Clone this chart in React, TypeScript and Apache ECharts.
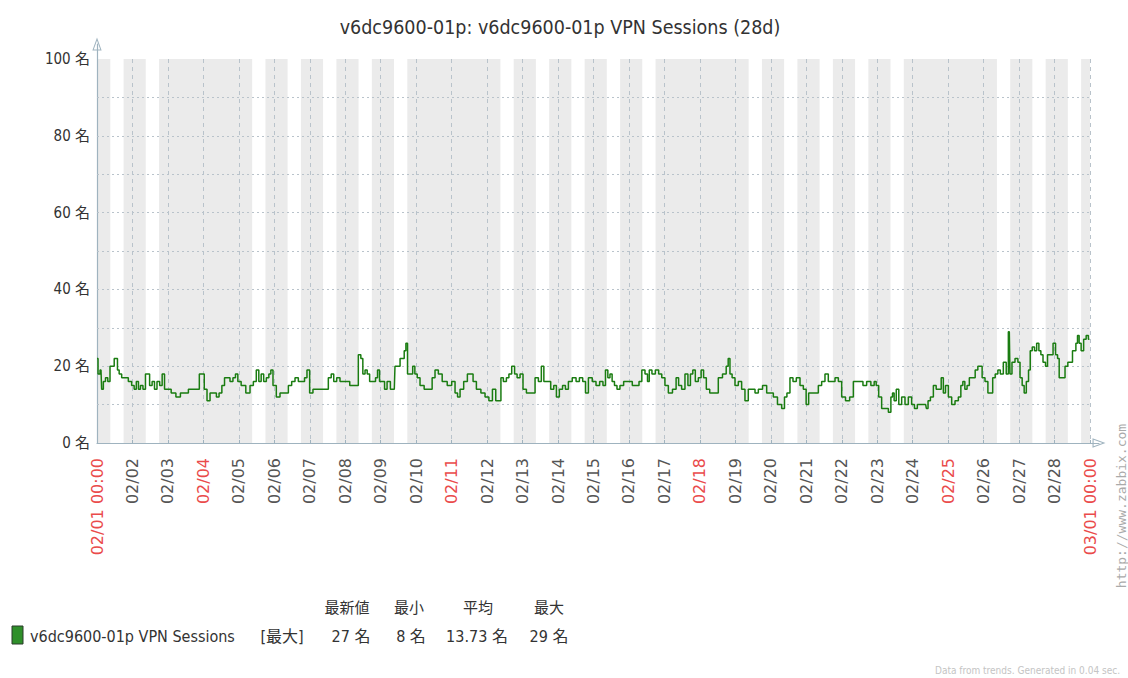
import React, { useEffect, useRef } from 'react';
import * as echarts from 'echarts';

// hours since 02/01 00:00 and the plotted (max) session count at that time
const hours = [
  0, 1.4, 2.7, 3.6, 5, 6.5, 8.1, 9.5, 11.1, 12.2, 13.3, 14.4, 15.6, 17.8, 20.1, 22.3, 24.6, 25.7, 27.5, 28.6,
  30.2, 32, 33.6, 34.7, 36.5, 38.1, 39.7, 41.5, 43.3, 44.9, 46.5, 48.7, 51.7, 55.1, 57.8, 60.7, 63, 66.3, 68.1, 70.4,
  71.7, 73.5, 75.4, 77.6, 79.9, 81.7, 83.5, 85.5, 87.1, 88.9, 91.1, 92.9, 94.5, 96.1, 99, 102.4, 104.7, 106.9, 108.7, 110.3,
  111.9, 113.7, 115.5, 117.1, 118.2, 120, 122.7, 125, 128.4, 130.6, 132.9, 135.1, 137.4, 139.7, 141.2, 143, 144.8, 147.5, 152.1, 155.4,
  157.7, 159.3, 161.1, 163.3, 165.6,
  169.7, 172.4, 175.7, 178, 179.1, 180.7, 182.1, 183.6, 185.4, 187.7, 189.3, 190.4, 192, 193.8, 195.4, 197.2, 199.9, 201.2, 202.1, 204.4,
  205.8, 207.3, 208.5, 209.6, 210.7, 213, 214.3, 215.9, 217.5, 219.7, 223.1, 226, 227.6, 229.9, 232.1, 235.1, 238.9, 241.2, 243.4, 244.6,
  246.8, 249.5, 251.8, 253.6, 255.4, 258.1, 261.5, 263.7, 266.7, 268.5, 271.2, 272.8, 273.9, 276.1, 278, 279.5, 281.8, 283.4, 285.2, 287.4,
  289.2, 292, 295.3, 297.6, 299.8, 301.6, 303.2, 305.9, 308.2, 310, 311.8, 314, 316.1, 317.9, 320.1, 323.1, 325.3, 327.6, 329.8, 331.4,
  333.7, 336.6,
  338.8, 341.5, 343.3, 344.9, 346.5, 347.8, 349.4, 351, 352.8, 355, 357.8, 359.6, 360.9, 363.6, 365.9, 367.7, 369.7, 372, 373.1, 374.4,
  376.7, 379, 381.2, 383.2, 385.5, 387.8, 391.1, 392.7, 394.5, 396.8, 399, 400.8, 402.4, 404, 405.8, 408.1, 409.6, 411.4, 413.3, 416,
  419.3, 421.6, 425, 426.6, 427.7, 429, 430.6, 432.9, 435.1, 437.4, 439.6, 441.9, 444.2, 446.4, 448.7, 452.1, 454.3, 456.6, 458.8, 462.2,
  464.5, 466, 467.8, 470.1, 471.9, 474.6, 476.9, 479.1, 480.7, 482.5, 484.8, 487, 489.3, 491.5, 493.8, 496, 498.3, 500.6, 502.8, 505.1,
  508, 510.7, 513, 517, 519.7, 522, 525.4, 526.5, 528.1, 529.9, 532.1, 534.4, 536.7, 537.8, 538.9, 540, 541.8, 543.4, 545.7, 547.9,
  550.2, 552.4, 554, 556.3, 558.5, 560.8, 561.7, 563.1, 564.9, 567.1, 568.7, 570.5, 572.1, 573.4, 575, 577.3, 579.5, 581.8, 584, 585.2,
  586.7, 587.9, 589.7, 591, 593.3, 595.3, 596.9, 598.2, 599.8, 602.1, 603.7, 605.5, 606.8, 608.9, 610.4, 612.2, 614.5, 616.1, 617.4, 618.3,
  620.1, 622.4, 624, 625.3, 626.9, 628, 629.8, 631, 632.1, 633.7, 635.2, 636.6, 638.2, 639.3, 641.1, 642.7, 643.8, 646.1, 647.9, 649.5,
  650.6, 651.7, 654, 656.2, 657.8, 659.6, 660.7, 661.9, 663, 664.1, 665.2, 666.8, 668.6, 670.2, 671.6,
];

const sessions = [
  22, 18, 19, 14, 16, 17, 16, 20, 20, 22, 22, 19, 18, 17, 17, 16, 15, 14, 16, 14,
  15, 14, 18, 18, 15, 16, 14, 16, 15, 18, 14, 14, 13, 12, 13, 13, 14, 14, 14, 18,
  18, 14, 11, 13, 13, 12, 13, 15, 17, 17, 16, 17, 18, 16, 15, 13, 15, 16, 19, 16,
  18, 16, 17, 18, 19, 15, 12, 13, 13, 15, 16, 17, 16, 16, 17, 19, 13, 14, 14, 14,
  17, 18, 16, 17, 16,
  16, 15, 15, 23, 22, 18, 19, 18, 16, 16, 17, 19, 16, 16, 14, 16, 14, 14, 20, 20,
  22, 22, 24, 26, 18, 18, 20, 18, 17, 15, 14, 14, 17, 19, 18, 16, 15, 16, 13, 12,
  14, 16, 18, 18, 16, 14, 13, 12, 11, 14, 11, 11, 17, 16, 17, 18, 20, 18, 17, 18,
  14, 13, 13, 17, 16, 20, 16, 16, 14, 15, 12, 14, 15, 14, 16, 17, 16, 17, 16, 13,
  17, 16,
  15, 16, 15, 19, 17, 18, 16, 15, 14, 15, 16, 16, 16, 15, 15, 16, 19, 18, 16, 19,
  18, 19, 18, 17, 15, 13, 14, 17, 15, 14, 18, 15, 18, 19, 16, 17, 19, 17, 14, 13,
  13, 17, 18, 20, 22, 18, 17, 15, 16, 14, 11, 14, 14, 13, 14, 15, 13, 13, 12, 10,
  9, 12, 13, 17, 16, 17, 15, 14, 10, 13, 13, 13, 15, 16, 18, 16, 16, 17, 16, 12,
  11, 12, 16, 16, 15, 16, 15, 16, 15, 12, 9, 9, 8, 12, 13, 11, 14, 10, 12, 10,
  12, 10, 9, 10, 10, 10, 9, 11, 12, 15, 14, 14, 17, 13, 15, 12, 10, 11, 12, 15,
  16, 14, 15, 17, 17, 19, 20, 20, 17, 16, 13, 13, 17, 18, 19, 18, 21, 18, 29, 18,
  21, 22, 21, 17, 15, 13, 16, 19, 24, 25, 24, 26, 24, 23, 21, 20, 23, 23, 26, 23,
  22, 17, 17, 20, 21, 21, 24, 24, 26, 28, 26, 24, 27, 28, 27,
];

const dayLabels = [
  '02/01 00:00', '02/02', '02/03', '02/04', '02/05', '02/06', '02/07', '02/08', '02/09', '02/10',
  '02/11', '02/12', '02/13', '02/14', '02/15', '02/16', '02/17', '02/18', '02/19', '02/20',
  '02/21', '02/22', '02/23', '02/24', '02/25', '02/26', '02/27', '02/28', '03/01 00:00',
];
const redLabels = ['02/01 00:00', '02/04', '02/11', '02/18', '02/25', '03/01 00:00'];

const yLabelValues = [0, 20, 40, 60, 80, 100];

// working days (index from 02/01) and working hours; the rest is shaded
const workDays = [0, 1, 4, 5, 6, 7, 8, 11, 12, 13, 14, 15, 18, 19, 20, 21, 22, 25, 26, 27];
const workStartHour = 9;
const workEndHour = 18;

const titleText = 'v6dc9600-01p: v6dc9600-01p VPN Sessions (28d)';
const seriesName = 'v6dc9600-01p VPN Sessions';
const legendFunc = '[最大]';
const legendHeaders = ['最新値', '最小', '平均', '最大'];
const legendValues = ['27 名', '8 名', '13.73 名', '29 名'];
const footerText = 'Data from trends. Generated in 0.04 sec.';
const siteText = 'http://www.zabbix.com';

const AXIS_COLOR = '#9fb3bf';
const GRID_COLOR = '#b9c3cb';
const RED = '#ea4b4b';
const COND = "'DejaVu Sans Condensed', 'Liberation Sans Narrow', 'Noto Sans CJK JP', sans-serif";
const ARROW = 'path://M5,0 L10,14 L0,14 Z M5,3.2 L1.5,12.8 L8.5,12.8 Z';

function buildBands(): number[][] {
  const out: number[][] = [];
  let cursor = 0;
  for (const d of workDays) {
    const s = d * 24 + workStartHour;
    const e = d * 24 + workEndHour;
    if (s > cursor) out.push([cursor, s]);
    cursor = e;
  }
  if (cursor < 672) out.push([cursor, 672]);
  return out;
}

export default function App() {
  const ref = useRef<HTMLDivElement>(null);

  useEffect(() => {
    if (!ref.current) return;
    const chart = echarts.init(ref.current, null, { renderer: 'svg' });
    const bands = buildBands();
    const headerX = [347, 409, 478, 549];
    const valueX = [351, 411, 477, 549];

    const graphics: any[] = [
      {
        type: 'text', x: 560, y: 27,
        style: { text: titleText, fill: '#333', font: `19.5px ${COND}`, textAlign: 'center', textVerticalAlign: 'middle', align: 'center', verticalAlign: 'middle' },
      },
      {
        type: 'rect', shape: { x: 12, y: 626, width: 11, height: 18 },
        style: { fill: '#2f8f2a', stroke: '#2a3a2a', lineWidth: 1 },
      },
      {
        type: 'text', x: 30, y: 636,
        style: { text: seriesName, fill: '#333', font: `16px ${COND}`, textAlign: 'left', textVerticalAlign: 'middle', align: 'left', verticalAlign: 'middle' },
      },
      {
        type: 'text', x: 282, y: 636,
        style: { text: legendFunc, fill: '#333', font: `16px ${COND}`, textAlign: 'center', textVerticalAlign: 'middle', align: 'center', verticalAlign: 'middle' },
      },
      {
        type: 'text', x: 1120, y: 670,
        style: { text: footerText, fill: '#c4c4c4', font: `10px ${COND}`, textAlign: 'right', textVerticalAlign: 'middle', align: 'right', verticalAlign: 'middle' },
      },
      {
        type: 'text', x: 1121, y: 506, rotation: Math.PI / 2,
        style: { text: siteText, fill: '#aaaaaa', font: "13px 'DejaVu Sans Mono', monospace", textAlign: 'center', textVerticalAlign: 'middle', align: 'center', verticalAlign: 'middle' },
      },
    ];
    legendHeaders.forEach((t, i) => {
      graphics.push({
        type: 'text', x: headerX[i], y: 608,
        style: { text: t, fill: '#333', font: `15px ${COND}`, textAlign: 'center', textVerticalAlign: 'middle', align: 'center', verticalAlign: 'middle' },
      });
    });
    legendValues.forEach((t, i) => {
      graphics.push({
        type: 'text', x: valueX[i], y: 636,
        style: { text: t, fill: '#333', font: `16px ${COND}`, textAlign: 'center', textVerticalAlign: 'middle', align: 'center', verticalAlign: 'middle' },
      });
    });

    chart.setOption({
      animation: false,
      backgroundColor: '#ffffff',
      grid: [
        { left: 97, top: 59, right: 38, bottom: 235 },
        { left: 97, top: 44, right: 29, bottom: 235 },
      ],
      xAxis: [
        {
          gridIndex: 0, type: 'value', min: 0, max: 672, interval: 24, z: 1,
          axisLine: { show: false },
          axisTick: { show: true, inside: true, length: 3, lineStyle: { color: AXIS_COLOR } },
          axisLabel: {
            rotate: 90, margin: 15, fontSize: 16, fontFamily: "'DejaVu Sans', sans-serif",
            showMinLabel: true, showMaxLabel: true,
            formatter: (v: number) => dayLabels[Math.round(v / 24)] ?? '',
            color: (v: any) => (redLabels.includes(dayLabels[Math.round(Number(v) / 24)]) ? RED : '#555'),
          },
          splitLine: { show: true, showMinLine: false, showMaxLine: true, lineStyle: { color: GRID_COLOR, type: [4, 4], width: 1 } },
        },
        {
          gridIndex: 1, type: 'value', min: 0, max: 1,
          axisLine: { show: true, onZero: false, symbol: ['none', ARROW], symbolSize: [10, 13], lineStyle: { color: AXIS_COLOR, width: 1.2 } },
          axisTick: { show: false }, axisLabel: { show: false }, splitLine: { show: false },
        },
      ],
      yAxis: [
        {
          gridIndex: 0, type: 'value', min: 0, max: 100, interval: 10, z: 1,
          axisLine: { show: false }, axisTick: { show: false },
          axisLabel: {
            margin: 7, fontSize: 15, fontFamily: COND, color: '#333',
            formatter: (v: number) => (yLabelValues.includes(v) ? `${v} 名` : ''),
          },
          splitLine: { show: true, showMinLine: false, showMaxLine: false, lineStyle: { color: GRID_COLOR, type: [2, 3], width: 1 } },
        },
        {
          gridIndex: 1, type: 'value', min: 0, max: 1,
          axisLine: { show: true, onZero: false, symbol: ['none', ARROW], symbolSize: [10, 13], lineStyle: { color: AXIS_COLOR, width: 1.2 } },
          axisTick: { show: false }, axisLabel: { show: false }, splitLine: { show: false },
        },
      ],
      series: [
        {
          type: 'custom', xAxisIndex: 0, yAxisIndex: 0, z: 0, silent: true,
          data: bands,
          encode: { x: [0, 1] },
          renderItem: (_p: any, api: any) => {
            const a = api.coord([api.value(0), 100]);
            const b = api.coord([api.value(1), 0]);
            return { type: 'rect', shape: { x: a[0], y: a[1], width: b[0] - a[0], height: b[1] - a[1] }, style: { fill: '#ebebeb' } };
          },
        },
        {
          type: 'line', name: seriesName, xAxisIndex: 0, yAxisIndex: 0, z: 3,
          data: hours.map((h, i) => [h, sessions[i]]),
          step: 'middle', showSymbol: false, symbol: 'none',
          lineStyle: { color: '#1a7c11', width: 1.5 },
        },
      ],
      graphic: graphics,
    });
    return () => chart.dispose();
  }, []);

  return <div ref={ref} style={{ position: 'fixed', left: 0, top: 0, width: 1128, height: 678 }} />;
}
